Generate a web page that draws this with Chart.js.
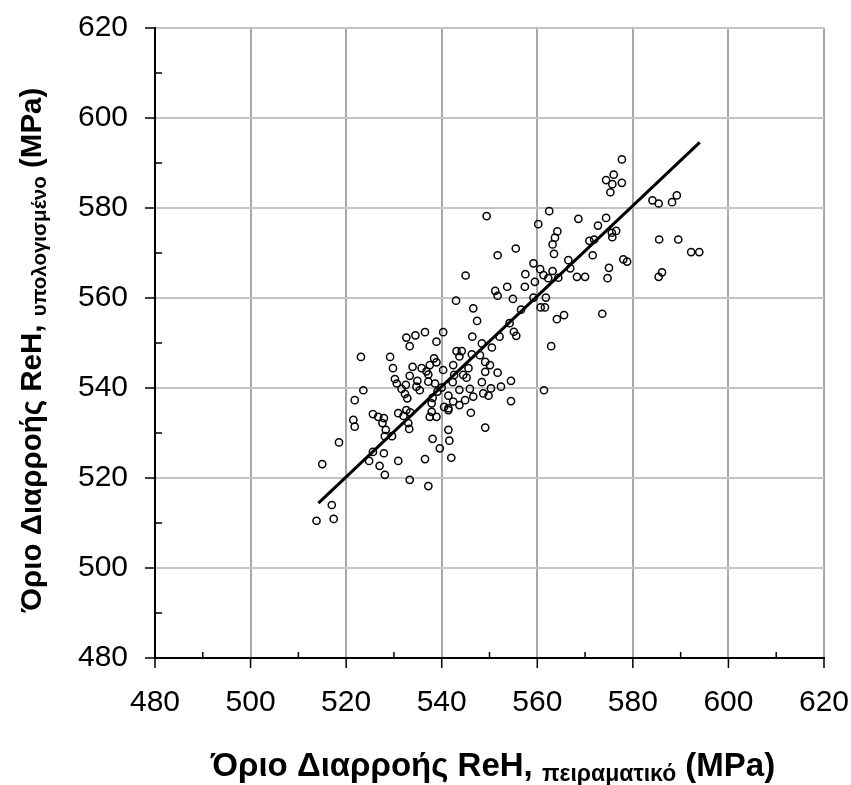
<!DOCTYPE html>
<html>
<head>
<meta charset="utf-8">
<script src="https://cdn.jsdelivr.net/npm/chart.js@4"></script>
<style>
  html, body { margin: 0; padding: 0; background: #fff; }
  #wrap { width: 851px; height: 785px; }
</style>
</head>
<body>
<div id="wrap"><canvas id="rehChart" width="851" height="785"></canvas></div>
<script>
// ReH experimental (x) vs calculated (y), MPa
const expX = [
  549.4, 562.5, 560.2, 564.2, 563.7, 563.2, 563.5, 555.5, 551.7, 545.0, 559.2, 557.5, 560.6, 563.2, 566.5, 566.9, 561.3,
  577.7, 576.0, 574.4, 577.7, 575.7, 575.3, 584.1, 585.4, 588.2, 589.2, 568.6, 574.4, 572.7, 576.5, 575.6, 575.7,
  571.9, 570.9, 571.6, 575.0, 578.0, 578.8, 585.5, 589.5, 592.2, 593.9, 586.1, 585.4, 574.7, 568.3, 570.0, 573.6,
  523.1, 532.6, 534.5, 533.3, 536.5, 529.2, 529.8, 533.9, 535.8, 530.2, 533.3, 530.6, 532.5, 534.9, 534.7, 531.6,
  535.4, 532.3, 532.8, 523.6, 521.8, 525.6, 530.9, 532.6,
  521.5, 521.8, 518.5, 515.0, 517.0, 513.8, 517.4, 526.7, 527.9, 527.6, 528.3, 528.1, 529.6, 533.0, 533.2, 525.6,
  527.9, 524.8, 527.0, 528.1, 530.9, 533.3, 536.5, 532.0, 533.4,
  537.5, 538.9, 541.4, 546.1, 549.1, 541.4, 538.1, 541.6, 539.6, 542.0, 537.2,
  559.5, 562.3, 564.4, 551.2, 551.7, 553.7, 557.4, 554.9, 559.2, 561.8, 560.7, 561.6, 543.0, 546.6, 547.4, 556.6,
  564.1, 565.6, 554.2, 555.1, 555.6, 562.9, 561.4, 540.3, 538.9, 546.4, 552.1, 548.4, 550.5, 543.1, 544.2, 543.7,
  546.3, 548.0, 549.1, 550.1, 538.4, 538.9, 537.5, 542.4, 545.6, 540.3, 549.1, 551.7, 536.8, 537.2, 542.6, 544.5,
  537.2, 542.3, 545.2, 538.6, 548.4, 554.5, 552.4, 550.3, 545.9, 543.7, 540.0, 539.1, 541.4, 548.7, 549.8, 554.5,
  546.6, 544.9, 538.1, 542.4, 543.7, 537.9, 540.5, 537.9, 541.4
];
const calcY = [
  578.2, 579.3, 576.4, 574.8, 573.4, 571.9, 569.8, 571.0, 569.5, 565.0, 567.7, 565.3, 566.4, 566.0, 568.4, 566.6, 565.1,
  590.8, 587.4, 586.2, 585.6, 585.3, 583.5, 581.7, 581.0, 581.3, 582.8, 577.6, 577.8, 576.1, 574.9, 574.5, 573.5,
  573.0, 572.7, 569.5, 566.7, 568.6, 568.1, 573.0, 573.0, 570.2, 570.2, 565.7, 564.7, 564.4, 564.7, 564.7, 556.5,
  546.9, 551.2, 551.7, 549.3, 552.4, 546.9, 544.4, 544.7, 544.4, 542.0, 542.7, 541.0, 540.7, 541.6, 540.3, 539.8,
  539.5, 538.7, 537.7, 539.5, 537.3, 534.2, 534.4, 535.1,
  532.9, 531.4, 527.9, 523.1, 514.0, 510.5, 510.9, 533.6, 533.3, 532.2, 530.7, 529.3, 529.3, 532.2, 530.9, 525.8,
  525.5, 523.8, 522.7, 520.7, 523.8, 519.6, 524.2, 533.8, 534.6,
  533.6, 533.6, 535.1, 534.5, 531.2, 530.7, 528.7, 528.3, 526.6, 524.5, 518.2,
  563.6, 564.4, 564.5, 561.6, 560.5, 562.5, 562.5, 559.8, 560.1, 560.1, 557.9, 557.9, 559.4, 557.7, 554.9, 557.4,
  555.3, 556.2, 554.4, 552.5, 551.6, 549.3, 539.5, 552.4, 550.3, 551.4, 551.4, 549.9, 549.0, 548.2, 548.2, 547.0,
  547.5, 547.3, 545.8, 545.1, 546.6, 545.7, 545.1, 545.1, 544.4, 544.0, 543.6, 543.4, 543.7, 543.0, 542.9, 542.9,
  541.4, 541.3, 542.3, 541.0, 541.3, 541.6, 540.3, 539.9, 539.8, 539.6, 540.1, 539.2, 538.3, 538.8, 538.3, 537.1,
  538.1, 537.3, 537.8, 537.0, 536.2, 536.6, 535.8, 534.7, 535.5
];
// fitted line end points
const fitX = [514.2, 594.0];
const fitY = [514.4, 594.6];

// axis ticks
const minorTicks = [490, 510, 530, 550, 570, 590, 610];
const majorTicks = [480, 500, 520, 540, 560, 580, 600, 620];

const xTitle = ["Όριο Διαρροής ReH, ", "πειραματικό", " (MPa)"];
const yTitle = ["Όριο Διαρροής ReH, ", "υπολογισμένο", " (MPa)"];

const FONT = "'Liberation Sans', Arial, sans-serif";

function drawTitle(ctx, parts, cx, cy, rotate, sizes) {
    const drops = [0, 5, 0];
    ctx.save();
    let total = 0;
    const widths = parts.map((t, i) => {
        ctx.font = `bold ${sizes[i]}px ${FONT}`;
        const w = ctx.measureText(t).width;
        total += w;
        return w;
    });
    ctx.translate(cx, cy);
    if (rotate) ctx.rotate(-Math.PI / 2);
    ctx.fillStyle = "#000";
    ctx.textBaseline = "alphabetic";
    let pos = -total / 2;
    parts.forEach((t, i) => {
        ctx.font = `bold ${sizes[i]}px ${FONT}`;
        ctx.fillText(t, pos, drops[i] + 10);
        pos += widths[i];
    });
    ctx.restore();
}

const axisDecor = {
    id: "axisDecor",
    afterDraw(chart) {
        const { ctx, chartArea, scales } = chart;
        const xs = scales.x, ys = scales.y;
        ctx.save();
        ctx.strokeStyle = "#000";
        ctx.lineWidth = 1.5;
        ctx.beginPath();
        majorTicks.forEach((v) => {
            const px = xs.getPixelForValue(v);
            ctx.moveTo(px, chartArea.bottom);
            ctx.lineTo(px, chartArea.bottom + 10);
            const py = ys.getPixelForValue(v);
            ctx.moveTo(chartArea.left - 10, py);
            ctx.lineTo(chartArea.left, py);
        });
        minorTicks.forEach((v) => {
            const px = xs.getPixelForValue(v);
            ctx.moveTo(px, chartArea.bottom);
            ctx.lineTo(px, chartArea.bottom - 6);
            const py = ys.getPixelForValue(v);
            ctx.moveTo(chartArea.left, py);
            ctx.lineTo(chartArea.left + 7, py);
        });
        ctx.stroke();
        ctx.restore();

        drawTitle(ctx, xTitle, 493, 766, false, [33, 23, 33]);
        drawTitle(ctx, yTitle, 31, 350, true, [29.5, 20.5, 29.5]);
    },
};

const points = expX.map((x, i) => ({ x: x, y: calcY[i] }));
const fitLine = fitX.map((x, i) => ({ x: x, y: fitY[i] }));

function noPad(scale) {
    scale.paddingTop = 0;
    scale.paddingBottom = 0;
    scale.paddingLeft = 0;
    scale.paddingRight = 0;
}

new Chart(document.getElementById("rehChart").getContext("2d"), {
    type: "scatter",
    data: {
        datasets: [
            {
                label: "fit",
                data: fitLine,
                showLine: true,
                borderColor: "#000",
                borderWidth: 3,
                pointRadius: 0,
            },
            {
                label: "ReH",
                data: points,
                pointStyle: "circle",
                pointRadius: 3.6,
                borderWidth: 1.5,
                borderColor: "#000",
                backgroundColor: "rgba(255,255,255,0)",
            },
        ],
    },
    options: {
        responsive: false,
        animation: false,
        devicePixelRatio: 1,
        layout: { padding: { top: 28, right: 27, left: 0, bottom: 0 } },
        plugins: {
            legend: { display: false },
            tooltip: { enabled: false },
        },
        scales: {
            x: {
                type: "linear",
                min: 480,
                max: 620,
                ticks: {
                    stepSize: 20,
                    padding: 27,
                    color: "#000",
                    font: { family: FONT, size: 30 },
                },
                grid: { color: "#a8a8a8", lineWidth: 2, drawTicks: false },
                border: { display: true, color: "#000", width: 2 },
                afterFit: (scale) => { scale.height = 127; noPad(scale); },
            },
            y: {
                type: "linear",
                min: 480,
                max: 620,
                ticks: {
                    stepSize: 20,
                    padding: 27,
                    color: "#000",
                    font: { family: FONT, size: 30 },
                },
                grid: { color: "#c4c4c4", lineWidth: 2, drawTicks: false },
                border: { display: true, color: "#000", width: 2 },
                afterFit: (scale) => { scale.width = 155; noPad(scale); },
            },
        },
    },
    plugins: [axisDecor],
});
</script>
</body>
</html>
